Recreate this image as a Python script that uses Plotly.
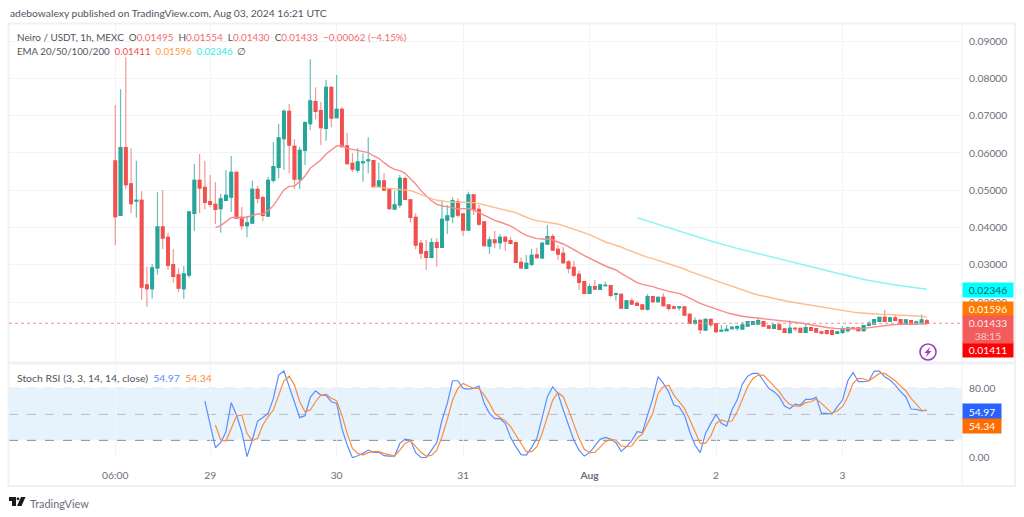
import numpy as np
import pandas as pd
import plotly.graph_objects as go

# ---- data (prices in thousandths of USDT) ----
START = "2024-07-28 06:00"
opens = [57.83,43.26,61.41,51.66,47.11,47.29,24.59,23.6,29.15,40.14,37.37,30.04,27.27,23.6,27.27,43.8,52.65,50.77,46.93,46.21,45.05,47.29,48.18,54.79,42.73,40.5,41.21,50.23,48.0,43.09,52.65,56.14,63.82,71.15,61.76,53.0,60.69,67.84,73.74,71.33,66.59,77.58,69.45,71.68,61.85,57.21,55.42,57.38,57.92,57.92,
51.13,52.47,50.24,44.96,46.04,53.10,47.38,42.73,35.76,33.52,32.0,35.94,34.69,42.01,42.91,46.93,43.62,39.33,48.72,44.87,
41.48,35.04,36.65,35.94,37.37,36.47,35.94,30.67,29.06,30.13,32.63,31.83,35.58,37.55,34.15,
33.08,30.75,29.32,27.45,25.48,22.35,24.14,23.42,24.41,24.41,22.08,22.08,18.33,20.3,19.67,19.22,18.15,21.46,20.12,21.28,19.22,18.69,18.51,18.69,16.72,14.31,15.11,12.52,15.38,14.13,12.25,12.34,12.88,13.06,
12.79,13.59,14.04,14.13,14.75,13.59,12.96,13.86,12.79,11.8,12.96,12.96,11.89,13.14,
12.87,11.98,12.34,12.34,11.62,11.89,12.34,13.05,13.05,12.34,13.77,14.13,14.84,15.91,14.93,15.73,15.29,14.13,15.02,14.21,14.48,14.95]
closes = [42.91,61.41,51.49,46.39,47.29,24.05,23.6,29.15,40.14,37.19,29.86,26.91,23.78,27.54,44.16,52.65,50.59,46.75,46.21,44.87,47.64,48.63,54.79,42.55,40.5,41.21,50.23,47.82,43.26,52.65,56.31,63.99,71.15,62.12,53.0,60.69,68.11,73.92,71.15,66.77,77.58,69.36,71.68,61.67,57.12,55.69,57.56,57.56,58.1,50.95,
52.47,50.06,45.05,46.04,53.18,47.55,42.73,35.31,33.17,32.0,35.94,34.69,42.19,43.09,47.2,43.35,39.33,48.72,44.87,40.94,
35.13,36.65,35.94,37.37,36.38,35.76,30.67,29.15,30.4,32.54,31.92,35.76,37.55,33.97,32.9,
30.57,29.05,27.27,25.3,22.35,24.14,23.51,24.58,24.5,21.81,22.26,18.42,20.3,19.49,19.13,18.15,21.46,20.12,21.28,19.04,18.33,18.42,18.69,16.54,14.31,14.93,12.61,15.38,13.95,12.07,12.43,12.7,13.24,13.41,
13.86,14.75,14.75,15.02,13.59,13.05,13.86,12.7,11.89,12.96,12.87,11.89,13.14,12.43,
11.98,11.71,11.62,11.35,11.98,12.78,13.05,12.87,12.34,13.68,14.3,15.29,15.91,14.84,15.73,15.11,14.13,15.2,14.04,14.66,15.2,14.33]
highs = [72.84,77.05,85.62,61.23,57.92,49.7,29.5,30.22,49.43,50.06,38.62,34.24,29.06,29.68,44.16,57.03,59.71,57.92,54.08,52.11,48.98,55.41,59.17,54.79,45.5,43.09,52.56,51.21,48.54,53.63,62.92,67.75,71.68,73.11,63.64,61.67,68.47,85.09,77.58,73.74,79.55,77.76,80.89,72.22,65.43,59.89,61.23,59.89,64.18,58.1,
57.39,54.53,50.24,49.88,54.08,53.63,47.38,43.8,36.65,36.65,37.1,37.1,47.2,46.04,48.09,47.82,43.8,49.61,48.72,46.04,
41.48,37.55,39.15,38.26,37.72,37.55,35.94,32.0,32.63,34.33,34.6,36.2,40.67,38.26,35.31,
34.68,31.29,31.11,28.43,25.48,24.85,25.93,24.85,25.48,24.41,22.53,22.08,20.38,21.01,20.21,19.22,22.17,21.46,21.46,22.35,19.22,19.04,18.95,18.78,16.99,15.92,15.2,15.38,15.38,14.13,13.86,13.95,13.59,13.86,
14.75,14.93,14.93,15.65,14.93,13.77,14.04,13.86,12.96,15.11,13.32,12.96,14.2,13.23,
13.05,12.34,12.52,12.7,12.16,13.59,13.23,13.23,13.05,13.86,14.93,15.47,16.09,17.88,16.09,16.63,15.29,15.47,15.02,15.02,16.72,15.54]
lows = [35.31,43.2,50.23,43.8,42.64,20.57,18.78,20.99,27.36,34.24,28.61,25.21,22.62,20.83,26.55,39.06,43.8,44.87,45.41,40.94,38.62,47.29,44.16,42.55,39.33,37.37,41.21,46.48,41.66,43.09,52.02,53.18,55.41,54.52,50.32,50.32,56.76,66.14,69.0,62.12,63.28,66.86,69.27,61.5,56.94,54.88,54.7,52.29,54.52,50.77,
51.13,50.06,45.05,44.78,45.32,47.38,41.3,34.15,31.47,28.61,31.74,29.5,34.42,38.26,41.12,42.73,37.72,39.33,43.35,40.41,
35.13,32.9,34.42,34.15,33.79,35.49,30.67,29.15,28.97,29.68,31.92,31.65,35.31,33.79,31.29,
30.22,27.71,26.64,23.24,22.35,22.35,23.42,23.24,24.32,21.28,20.38,18.42,18.33,19.4,18.95,17.88,17.7,19.85,19.94,19.04,17.61,17.97,17.7,16.27,14.13,13.86,11.45,12.34,13.24,11.8,12.16,12.25,12.7,12.34,
12.7,13.41,13.95,14.04,13.41,12.87,12.79,12.6,11.71,11.8,12.25,11.8,11.71,12.25,
11.89,11.35,11.27,11.09,11.35,11.44,11.89,12.52,12.16,12.25,13.59,14.04,14.66,14.75,14.66,14.93,14.13,14.04,13.95,13.77,14.39,14.30]
ema20 = [39.96,40.5,41.57,42.64,42.73,42.55,42.82,43.26,43.62,43.62,44.52,45.86,48.0,50.06,51.04,51.13,52.29,53.81,55.87,57.03,58.1,59.71,60.78,61.85,61.94,61.23,60.96,60.6,60.42,60.06,59.17,58.55,57.38,56.31,55.6,55.24,
54.53,53.18,51.67,49.88,48.45,47.2,46.21,45.77,45.59,45.32,44.96,45.05,45.05,44.69,43.98,43.18,42.46,41.92,41.48,41.03,40.41,39.6,38.62,37.9,37.37,37.01,36.92,36.92,36.65,36.2,
35.58,34.86,34.15,33.25,32.45,31.73,31.02,30.39,29.68,29.14,28.61,27.71,26.82,26.01,25.21,24.76,24.5,24.14,23.69,23.24,22.89,22.62,22.35,21.72,21.01,20.38,19.67,19.13,18.6,18.06,17.61,17.17,16.81,16.45,
16.2,16.0,15.85,15.7,15.6,15.5,15.4,15.25,15.05,14.8,14.6,14.4,14.2,14.0,13.7,13.45,13.2,13.0,12.9,12.85,12.8,12.8,12.85,12.95,13.15,13.4,13.6,13.75,13.85,13.95,14.05,14.1,14.1,14.1,14.12,14.11]
ema50 = [50.95,50.77,50.59,50.5,50.33,50.24,50.06,49.88,49.43,48.81,48.27,47.73,47.29,47.02,46.93,46.84,46.84,46.75,46.75,46.66,46.39,46.04,45.68,45.32,45.05,44.69,44.34,43.98,43.35,42.73,42.19,41.84,41.66,41.48,41.21,40.94,
40.5,40.05,39.6,39.15,38.65,38.1,37.4,36.65,36.11,35.67,35.31,34.77,34.15,33.61,32.9,32.45,32.0,31.65,31.2,30.75,30.3,29.86,29.41,28.87,28.25,27.71,27.18,26.73,26.28,25.75,25.21,24.76,24.23,23.69,
23.2,22.75,22.3,21.9,21.55,21.2,20.9,20.6,20.35,20.1,19.85,19.6,19.35,19.1,18.85,18.6,18.35,18.1,17.85,17.6,17.45,17.3,17.15,17.0,16.9,16.82,16.75,16.72,16.65,16.6,16.52,16.45,16.38,16.3,16.2,15.96]
ema100_bar = [99,104,109,113,118,123,128,133,138,143,148,154]
ema100 = [42.63,40.35,38.1,36.38,34.4,32.63,30.89,29.14,27.4,25.79,24.58,23.46]
stoch_k = [65.4,37.7,11.5,17.3,30.0,63.5,49.2,30.0,1.2,20.4,42.3,46.5,51.2,68.5,95.4,100,81.9,62.7,46.2,48.5,69.6,77.3,72.3,71.9,64.6,62.7,33.8,14.6,0,2.3,5,8.8,6.2,6.2,2.3,1.9,1.9,16.5,21.5,20.4,5.8,0.4,0,8.8,17.3,43.5,62.7,88.8,88.8,80,79.2,80,82.7,62.7,51.2,45,45,39.6,
23.5,12.7,3.5,3.1,11.9,22.3,45.4,70.4,81.9,74.2,55,37.7,20.4,8.8,1.9,5.8,13.5,21.2,23.5,21.5,17.3,7.3,12.7,19.6,30,28.9,49.2,68.5,93.5,85.8,76.2,60.8,58.9,49.2,30,14.6,5.8,28.1,39.6,50,39.6,36.5,55,66.5,85,94.2,97.3,97.3,88.8,80,76.2,70.4,59.6,56.5,61.9,60.8,67.3,67.3,69.6,51.2,51.2,50.4,58.9,66.5,88.8,98.5,87.7,87.7,88.8,100,100,93.5,89.6,83.8,76.2,70.4,56.2,55.8,53.9,54.97]
stoch_d = [37.7,20.4,19.2,33.8,48.1,49.2,28.1,19.6,22.3,37.7,47.3,55,72.3,88.8,94.2,83.8,64.6,53.1,55,64.6,72.3,73.5,68.5,65.8,49.2,28.1,10.8,5,3.1,5.8,6.9,6.9,5,3.1,1.9,8.8,16.5,19.6,13.5,6.2,1.9,2.7,8.8,24.2,44.2,66.5,80,85.8,82.7,80,80,72.3,62.7,51.2,46.5,42.7,
35.8,26.2,16.5,6.9,6.9,12.7,28.1,47.3,66.5,75,70.4,55,37.7,22.3,9.6,5.8,6.2,11.9,18.5,21.2,20.4,13.5,12.7,13.5,22.3,27.3,39.6,51.2,74.2,81.9,83.8,72.3,64.6,56.9,44.2,30,16.5,16.5,25,39.6,43.5,41.5,42.3,53.1,68.5,81.9,91.5,95.4,95.4,89.6,82.7,76.2,67.3,61.5,59.6,59.6,63.5,64.6,67.7,62.7,56.9,51.2,54.2,58.9,70.4,85.8,91.5,91.1,88.8,92.7,97.3,97.3,93.5,88.8,82.7,77.3,68.5,61.5,55,54.34]
price_ticks = [20, 30, 40, 50, 60, 70, 80, 90]
rsi_ticks = [0, 80]
time_ticks = ["2024-07-28 06:00","2024-07-29","2024-07-30","2024-07-31","2024-08-01","2024-08-02","2024-08-03"]
time_labels = ["06:00","29","30","31","<b>Aug</b>","2","3"]
last_price = 14.33

# ---- page geometry helpers (pixels -> paper) ----
W, H = 1024, 517
PX = lambda x: x / W
PY = lambda y: 1 - y / H
FONT = "Lato"
GREY = "#6a6d78"
GRID = "#f3f4f8"
FRAME = "#eff1f6"

times = pd.date_range(START, periods=len(opens), freq="h")
assert len(opens) == len(highs) == len(lows) == len(closes) == 155
assert len(ema20) == 155 - 19 and len(ema50) == 155 - 49
assert len(stoch_k) == 155 - 17 and len(stoch_d) == 155 - 19

fig = go.Figure()
# lighter wicks first, then solid bodies on top
fig.add_trace(go.Candlestick(
    x=times, open=opens, high=highs, low=lows, close=closes, xaxis="x", yaxis="y",
    increasing=dict(line=dict(color="rgba(38,166,154,0.7)", width=1.2), fillcolor="rgba(38,166,154,0.7)"),
    decreasing=dict(line=dict(color="rgba(239,83,80,0.6)", width=1.2), fillcolor="rgba(239,83,80,0.6)"),
    whiskerwidth=0, hoverinfo="skip", showlegend=False))
fig.add_trace(go.Candlestick(
    x=times, open=opens, close=closes, xaxis="x", yaxis="y",
    high=np.maximum(opens, closes), low=np.minimum(opens, closes),
    increasing=dict(line=dict(color="#26a69a", width=1.3), fillcolor="#26a69a"),
    decreasing=dict(line=dict(color="#f0514f", width=1.3), fillcolor="#f0514f"),
    whiskerwidth=0, hoverinfo="skip", showlegend=False))
fig.add_trace(go.Scatter(x=times[19:], y=ema20, mode="lines", line=dict(color="#f88a8a", width=1.4), xaxis="x", yaxis="y", showlegend=False))
fig.add_trace(go.Scatter(x=times[49:], y=ema50, mode="lines", line=dict(color="#fdbc8a", width=1.4), xaxis="x", yaxis="y", showlegend=False))
fig.add_trace(go.Scatter(x=times[ema100_bar], y=ema100, mode="lines", line=dict(color="#8af3f3", width=1.4), xaxis="x", yaxis="y", showlegend=False))
fig.add_trace(go.Scatter(x=times[17:], y=stoch_k, mode="lines", line=dict(color="#5c8dfb", width=1.2), xaxis="x2", yaxis="y2", showlegend=False))
fig.add_trace(go.Scatter(x=times[19:], y=stoch_d, mode="lines", line=dict(color="#fb8c3c", width=1.2), xaxis="x2", yaxis="y2", showlegend=False))

xr = ["2024-07-27 09:50", "2024-08-03 22:40"]
dom_x = [PX(9), PX(962)]
axis_common = dict(range=xr, domain=dom_x, tickvals=time_ticks, showgrid=True, gridcolor=GRID, gridwidth=1,
                   zeroline=False, showline=False, fixedrange=True, automargin=False)
shapes = []
# RSI band and levels
shapes.append(dict(type="rect", xref="x2 domain", yref="y2", x0=0, x1=1, y0=20, y1=80, fillcolor="#e6f3fd", line_width=0, layer="below"))
for lvl, col in [(80, "#8a8d96"), (50, "#b9bcc4"), (20, "#8a8d96")]:
    shapes.append(dict(type="line", xref="x2 domain", yref="y2", x0=0, x1=1, y0=lvl, y1=lvl, line=dict(color=col, width=1, dash="dash"), layer="below"))
# last price line
shapes.append(dict(type="line", xref="x domain", yref="y", x0=0, x1=1, y0=last_price, y1=last_price, line=dict(color="#f58f8f", width=1, dash="dot"), layer="above"))
# frame and divider
shapes.append(dict(type="rect", xref="paper", yref="paper", x0=PX(8.5), x1=PX(1015), y0=PY(23.5), y1=PY(486), line=dict(color=FRAME, width=2), layer="below"))
shapes.append(dict(type="line", xref="paper", yref="paper", x0=PX(8.5), x1=PX(1015), y0=PY(363), y1=PY(363), line=dict(color=FRAME, width=3), layer="below"))
shapes.append(dict(type="line", xref="paper", yref="paper", x0=PX(962), x1=PX(962), y0=PY(23.5), y1=PY(486), line=dict(color=FRAME, width=1), layer="below"))
# value tag boxes
tags = [("0.02346", 282, 296, "#00ffff", "#0b6a6a"), ("0.01596", 301, 315, "#ff7a00", "#ffffff"),
        ("0.01411", 342, 356, "#ff0000", "#ffffff")]
# lightning badge
cx, cy, r = 928, 352, 8
shapes.append(dict(type="circle", xref="paper", yref="paper", x0=PX(cx-r), x1=PX(cx+r), y0=PY(cy+r), y1=PY(cy-r), line=dict(color="#9c3fb5", width=1.6), fillcolor="white", layer="above"))
def path(pts):
    return "M " + " L ".join(f"{PX(x):.5f},{PY(y):.5f}" for x, y in pts) + " Z"
shapes.append(dict(type="path", xref="paper", yref="paper", path=path([(930.5,346.5),(924.5,353),(927.5,353),(925.5,357.5),(931.5,351),(928.5,351)]), fillcolor="#9c3fb5", line_width=0, layer="above"))
# TradingView logo
shapes.append(dict(type="path", xref="paper", yref="paper", path=path([(9,497),(16,497),(16,506),(12,506),(12,501),(9,501)]), fillcolor="#1a1a1a", line_width=0))
shapes.append(dict(type="circle", xref="paper", yref="paper", x0=PX(16.6), x1=PX(19.4), y0=PY(500.2), y1=PY(497.4), fillcolor="#1a1a1a", line_width=0))
shapes.append(dict(type="path", xref="paper", yref="paper", path=path([(21,497),(25.5,497),(21.5,506),(17,506)]), fillcolor="#1a1a1a", line_width=0))

ann = []
def text(x, y, s, size=11.5, color=GREY, anchor="left", **kw):
    ann.append(dict(x=PX(x), y=PY(y), xref="paper", yref="paper", text=s, showarrow=False, xanchor=anchor, yanchor="middle",
                    font=dict(family=FONT, size=size, color=color), borderpad=0, **kw))
def col(s, c):
    return f'<span style="color:{c}">{s}</span>'
RED = "#f36a6a"
text(9, 13.5, "adebowalexy published on TradingView.com, Aug 03, 2024 16:21 UTC", size=10.3, color="#50535c")
text(16, 37, "Neiro / USDT, 1h, MEXC  O" + col("0.01495", RED) + "  H" + col("0.01554", RED) + "  L" + col("0.01430", RED) + "  C" + col("0.01433", RED) + "  " + col("−0.00062 (−4.15%)", RED), size=9.9, color="#50535c")
text(16, 51, "EMA 20/50/100/200  " + col("0.01411", "#f44a4a") + "  " + col("0.01596", "#ff9a3c") + "  " + col("0.02346", "#2fe6e6") + "  ∅", size=9.7, color="#50535c")
text(16, 378, "Stoch RSI (3, 3, 14, 14, close)  " + col("54.97", "#5c8dfb") + "  " + col("54.34", "#fb8c3c"), size=10.4, color="#50535c")
text(29, 503, "TradingView", size=10.9, color="#6a6d78")
for s, y0, y1, bg, fg in tags:
    ann.append(dict(x=PX(962), y=PY(y0), xref="paper", yref="paper", xanchor="left", yanchor="top", width=50, height=y1-y0, bgcolor=bg,
                    text=s, showarrow=False, align="center", valign="middle", borderpad=0, font=dict(family=FONT, size=10.3, color=fg)))
ann.append(dict(x=PX(962), y=PY(315), xref="paper", yref="paper", xanchor="left", yanchor="top", width=50, height=27, bgcolor="#f25c5c",
                text='0.01433<br><span style="color:#ffc9c9">38:15</span>', showarrow=False, align="center", valign="middle", borderpad=0,
                font=dict(family=FONT, size=10.3, color="#ffe9e9")))
for s, y0, y1, bg in [("54.97", 403, 418, "#2962ff"), ("54.34", 418, 432, "#ff6d00")]:
    ann.append(dict(x=PX(962), y=PY(y0), xref="paper", yref="paper", xanchor="left", yanchor="top", width=38, height=y1-y0, bgcolor=bg,
                    text=s, showarrow=False, align="center", valign="middle", borderpad=0, font=dict(family=FONT, size=10.3, color="white")))

tickf = dict(family=FONT, size=10.3, color=GREY)
fig.update_layout(
    width=W, height=H, autosize=False, margin=dict(l=0, r=0, t=0, b=0),
    paper_bgcolor="white", plot_bgcolor="white", showlegend=False, hovermode=False,
    xaxis=dict(**axis_common, type="date", anchor="y", showticklabels=False, ticks="", rangeslider=dict(visible=False)),
    xaxis2=dict(**axis_common, type="date", anchor="y2", ticktext=time_labels, tickfont=tickf, ticks="outside", ticklen=8, tickcolor="rgba(0,0,0,0)", rangeslider=dict(visible=False)),
    yaxis=dict(domain=[PY(362), PY(24)], range=[3.94, 94.56], side="right", anchor="x", tickvals=price_ticks, automargin=False,
               ticktext=[f"{v/1000:.5f}" for v in price_ticks], tickfont=tickf, showgrid=True, gridcolor=GRID, zeroline=False,
               ticks="outside", ticklen=4, tickcolor="rgba(0,0,0,0)", fixedrange=True),
    yaxis2=dict(domain=[PY(458), PY(365)], range=[-0.35, 107], side="right", anchor="x2", tickvals=rsi_ticks, automargin=False,
                ticktext=[f"{v:.2f}" for v in rsi_ticks], tickfont=tickf, showgrid=True, gridcolor="#eceef4", zeroline=False,
                ticks="outside", ticklen=4, tickcolor="rgba(0,0,0,0)", fixedrange=True),
    shapes=shapes, annotations=ann)

fig.write_html("out.html", post_script="document.body.style.margin='0';", config={"displayModeBar": False})
